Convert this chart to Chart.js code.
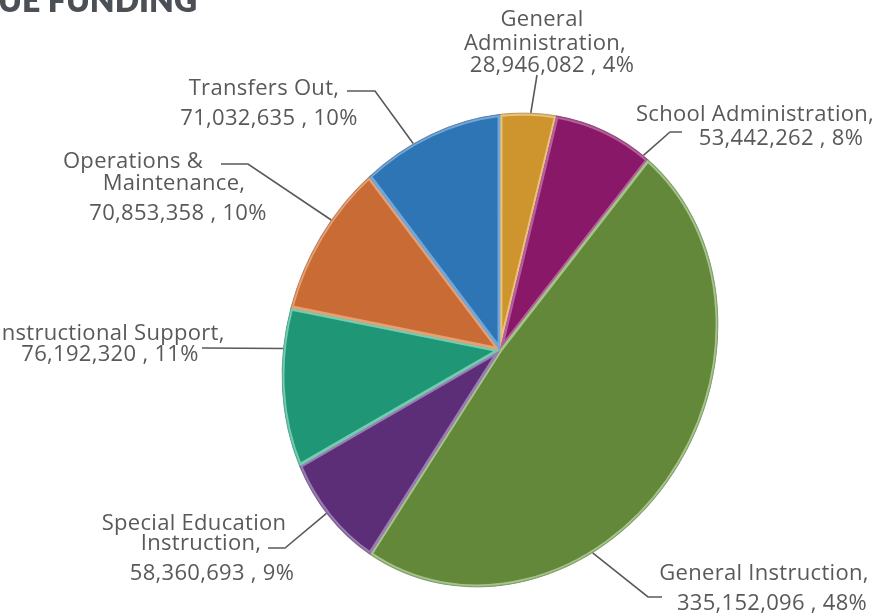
<!DOCTYPE html>
<html><head><meta charset="utf-8">
<script src="https://cdn.jsdelivr.net/npm/chart.js@4.4.0/dist/chart.umd.min.js"></script>
<style>html,body{margin:0;padding:0;background:#fff;overflow:hidden}#wrap{width:892px;height:613px;position:relative}</style>
</head><body><div id="wrap"><canvas id="c"></canvas></div>
<script>
// ---- data ----
const categories = ['General Administration','School Administration','General Instruction','Special Education Instruction','Instructional Support','Operations & Maintenance','Transfers Out'];
const values = [28946082, 53442262, 335152096, 58360693, 76192320, 70853358, 71032635];
const percentLabels = ['4%','8%','48%','9%','11%','10%','10%'];
const nameLines = [['General','Administration,'],['School Administration,'],['General Instruction,'],['Special Education','Instruction,'],['Instructional Support,'],['Operations &','Maintenance,'],['Transfers Out,']];
const titleText = 'REVENUE FUNDING';

// ---- style ----
const colors = ['#CE942E','#8A1868','#63883A','#5D2E78','#1F9676','#C96B34','#2E75B6'];
const edgeColors = ['#E9C277','#B45E9C','#A5C48A','#9A7BB4','#72CDB0','#E6A073','#73A6D8'];
const ELL_A = 212, ELL_B = 243, ELL_PHI = 26 * Math.PI / 180;
const TEXT_COLOR = '#595959';
// label layout: t = fraction along slice for leader start, leader = points rel. to centre, lines = text centres rel. to centre
const labelLayout = [
  {t:0.54, leader:[[37,-275]], lines:[[42,-332],[45,-308],[52,-286]]},
  {t:0.94, leader:[[170,-218],[182,-218]], lines:[[255,-237],[281,-213]]},
  {t:0.645, leader:[[148,247],[162,247]], lines:[[264,222],[272,252]]},
  {t:0.53, leader:[[-215,198],[-232,198]], lines:[[-306,172],[-299,192],[-288,222]]},
  {t:0.75, leader:[[-298,-2]], lines:[[-390,-18],[-390,3]]},
  {t:0.625, leader:[[-252,-186],[-279,-186]], lines:[[-367,-190],[-326,-168],[-322,-138]]},
  {t:0.364, leader:[[-125,-259],[-153,-259]], lines:[[-236,-263],[-231,-233]]}
];

function mapPt(cx, cy, R, ang, r){
  const sx = r*Math.cos(ang)*ELL_A, sy = r*Math.sin(ang)*ELL_B;
  return [cx + sx*Math.cos(ELL_PHI) - sy*Math.sin(ELL_PHI), cy + sx*Math.sin(ELL_PHI) + sy*Math.cos(ELL_PHI)];
}

const tiltPlugin = {
  id:'tilt',
  beforeDatasetsDraw(chart){
    const a = chart.getDatasetMeta(0).data[0];
    const ctx = chart.ctx; ctx.save();
    ctx.translate(a.x, a.y); ctx.rotate(ELL_PHI); ctx.scale(ELL_A/a.outerRadius, ELL_B/a.outerRadius); ctx.translate(-a.x, -a.y);
  },
  afterDatasetsDraw(chart){
    const ctx = chart.ctx;
    const a = chart.getDatasetMeta(0).data[0];
    ctx.beginPath(); ctx.arc(a.x, a.y, a.outerRadius-0.5, 0, Math.PI*2);
    ctx.strokeStyle = 'rgba(0,0,0,0.18)'; ctx.lineWidth = 1.2; ctx.stroke();
    ctx.restore();
  }
};

const labelPlugin = {
  id:'labels',
  afterDraw(chart){
    const ctx = chart.ctx;
    const arcs = chart.getDatasetMeta(0).data;
    ctx.save();
    // title
    ctx.font = '800 32px Lato';
    ctx.fillStyle = '#4B5056';
    ctx.textAlign = 'right'; ctx.textBaseline = 'alphabetic';
    ctx.fillText(titleText, 197, 12);
    ctx.font = '22px "Open Sans"';
    ctx.letterSpacing = '0.3px';
    ctx.fillStyle = TEXT_COLOR; ctx.strokeStyle = TEXT_COLOR; ctx.lineWidth = 1.6;
    arcs.forEach((a, i) => {
      const L = labelLayout[i];
      const cx = a.x, cy = a.y;
      const ang = a.startAngle + L.t*(a.endAngle - a.startAngle);
      const p0 = mapPt(cx, cy, a.outerRadius, ang, 1.0);
      ctx.beginPath(); ctx.moveTo(p0[0], p0[1]);
      L.leader.forEach(p => ctx.lineTo(cx+p[0], cy+p[1]));
      ctx.stroke();
      const texts = nameLines[i].concat([values[i].toLocaleString('en-US') + ' , ' + percentLabels[i]]);
      ctx.textAlign = 'center';
      texts.forEach((s, k) => ctx.fillText(s, cx+L.lines[k][0], cy+L.lines[k][1]+8));
    });
    ctx.restore();
  }
};

const canvas = document.getElementById('c');
new Chart(canvas, {
  type:'pie',
  data:{labels:categories, datasets:[{data:values, backgroundColor:colors, borderColor:edgeColors, borderWidth:2.5, borderAlign:'inner', hoverOffset:0}]},
  options:{
    responsive:true, maintainAspectRatio:false, animation:false, events:[],
    rotation:-29.2,
    layout:{padding:{left:275, right:167, top:125, bottom:38}},
    plugins:{legend:{display:false}, tooltip:{enabled:false}, title:{display:false}}
  },
  plugins:[tiltPlugin, labelPlugin]
});
</script></body></html>
